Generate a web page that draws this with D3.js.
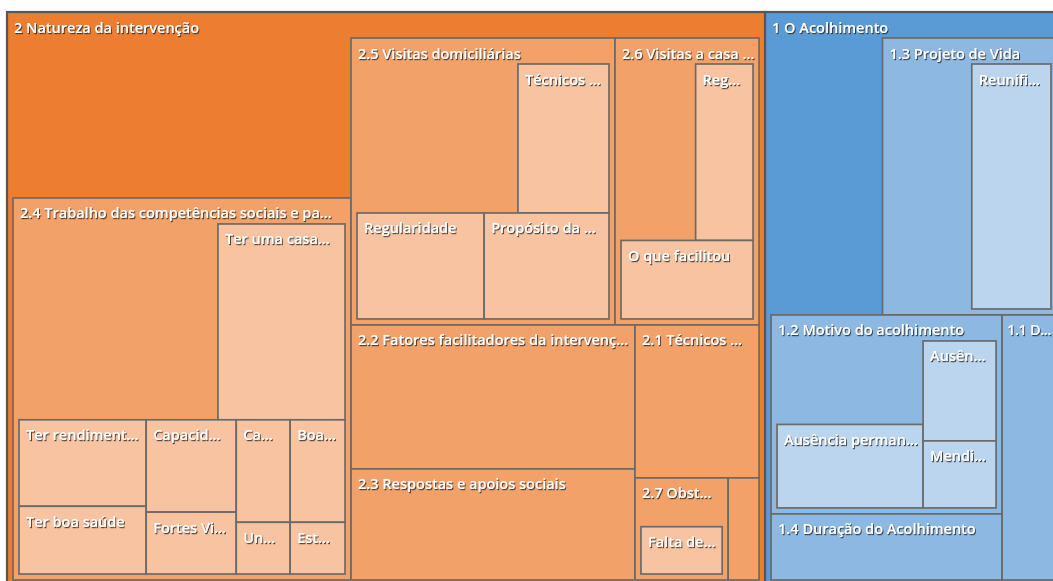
<!DOCTYPE html>
<html>
<head>
<meta charset="utf-8">
<script src="https://cdn.jsdelivr.net/npm/d3@7"></script>
<style>
  body { margin: 0; background: #fff; overflow: hidden; }
  svg { display: block; }
  .label { font-family: "Open Sans", Lato, sans-serif; font-size: 14.5px; font-weight: 600; fill: #fff; }
</style>
</head>
<body>
<div id="chart"></div>
<script>
// Codes of the nodes, in the order they are tiled (children follow their parent)
const codes = [
  "2", "2.4", "2.4a", "2.4b", "2.4c", "2.4d", "2.4e", "2.4f", "2.4g", "2.4h", "2.4i",
  "2.5", "2.5a", "2.5b", "2.5c",
  "2.6", "2.6a", "2.6b",
  "2.2", "2.3", "2.1", "2.7", "2.7a", "2.8",
  "1", "1.3", "1.3a", "1.2", "1.2a", "1.2b", "1.2c", "1.4", "1.1"
];

// Parent of each code
const parents = [
  "root", "2", "2.4", "2.4", "2.4", "2.4", "2.4", "2.4", "2.4", "2.4", "2.4",
  "2", "2.5", "2.5", "2.5",
  "2", "2.6", "2.6",
  "2", "2", "2", "2", "2.7", "2",
  "root", "1", "1.3", "1", "1.2", "1.2", "1.2", "1", "1"
];

// Labels as shown in the treemap
const labels = [
  "2 Natureza da intervenção", "2.4 Trabalho das competências sociais e pa...",
  "Ter uma casa...", "Ter rendiment...", "Ter boa saúde", "Capacid...", "Fortes Vi...",
  "Ca...", "Boa...", "Un...", "Est...",
  "2.5 Visitas domiciliárias", "Técnicos ...", "Regularidade", "Propósito da ...",
  "2.6 Visitas a casa ...", "Reg...", "O que facilitou",
  "2.2 Fatores facilitadores da intervenç...", "2.3 Respostas e apoios sociais",
  "2.1 Técnicos ...", "2.7 Obst...", "Falta de...", "",
  "1 O Acolhimento", "1.3 Projeto de Vida", "Reunifi...", "1.2 Motivo do acolhimento",
  "Ausência perman...", "Ausên...", "Mendi...", "1.4 Duração do Acolhimento", "1.1 D..."
];

// Coding coverage of each node (for parents: coded at the node itself)
const refs = [
  960, 783, 500, 221, 173, 167, 112, 111, 113, 56, 57,
  502, 284, 282, 277,
  287, 221, 226,
  726, 560, 337, 55, 114, 56,
  562, 451, 429, 279, 279, 167, 112, 278, 265
];

// Fill shades per theme, by depth
const shades = {
  "2": ["#ED7D31", "#F2A168", "#F7C3A0"],
  "1": ["#5B9BD5", "#8DB8E2", "#BBD5EE"]
};

let width = 1053, height = 581;
let ox = 7, oy = 12;           // top-left corner of the treemap
let tw = 1056, th = 574;       // treemap size (extends past the window)
let fontSize = 14.5;

//Build the table for stratify, with an extra leaf for each parent's own coverage
let rows = [{id: "root", parent: null, value: 0}];
codes.forEach((c, i) =>
{
    let isParent = parents.includes(c);
    rows.push({id: c, parent: parents[i], label: labels[i], value: isParent ? 0 : refs[i]});
    if (isParent)
    {
        rows.push({id: c + "/own", parent: c, value: refs[i], own: true});
    }
});

let root = d3.stratify()
    .id(d => d.id)
    .parentId(d => d.parent)(rows)
    .sum(d => d.value);

d3.treemap()
    .tile(d3.treemapSquarify)
    .size([tw, th])
    .paddingTop(d => d.depth ? 26 : 0)
    .paddingLeft(d => d.depth ? 6 : 0)
    .paddingRight(d => d.depth ? 6 : 0)
    .paddingBottom(d => d.depth ? 6 : 0)
    .paddingInner(0)
    (root);

let svg = d3.select("#chart").append("svg")
    .attr("width", width)
    .attr("height", height);

//Shadow behind the white labels
svg.append("defs").append("filter")
    .attr("id", "shadow")
    .attr("x", "-10%").attr("y", "-30%")
    .attr("width", "120%").attr("height", "160%")
    .append("feDropShadow")
    .attr("dx", 1).attr("dy", 1.2)
    .attr("stdDeviation", 0.6)
    .attr("flood-color", "#2a2a2a")
    .attr("flood-opacity", 0.85);

let g = svg.append("g").attr("transform", "translate(" + ox + "," + oy + ")");

let nodes = root.descendants().filter(d => d.depth > 0 && !d.data.own);

function theme(d)
{
    return d.ancestors().find(a => a.depth === 1).id;
}

let cells = g.selectAll("g.cell")
    .data(nodes)
    .join("g")
    .attr("class", "cell")
    .attr("transform", d => "translate(" + d.x0 + "," + d.y0 + ")");

cells.append("rect")
    .attr("width", d => d.x1 - d.x0)
    .attr("height", d => d.y1 - d.y0)
    .attr("fill", d => shades[theme(d)][Math.min(d.depth - 1, 2)])
    .attr("stroke", d => d.depth === 1 ? "#565656" : "#6a6a6a")
    .attr("stroke-width", d => d.depth === 1 ? 2.2 : 1.7);

//Labels, trimmed to the width of their box and kept inside the window
cells.append("text")
    .attr("class", "label")
    .attr("x", 7)
    .attr("y", 20.5)
    .attr("filter", "url(#shadow)")
    .text(d => d.data.label)
    .each(function (d)
    {
        let el = d3.select(this);
        let room = (d.x1 - d.x0) - 8;
        let txt = d.data.label;
        if ((d.y1 - d.y0) < 26 || room < 20)
        {
            el.text("");
            return;
        }
        while (this.getComputedTextLength() > room && txt.length > 1)
        {
            txt = txt.replace(/\.\.\.$/, "").slice(0, -1);
            el.text(txt + "...");
        }
        //Near the right edge of the window: tighten the letters, then shrink
        let seen = (width - 2 - ox) - d.x0 - 5;
        let len = this.getComputedTextLength();
        if (len > seen)
        {
            el.attr("x", 5);
            let n = el.text().length;
            let ls = Math.max(-0.7, -(len - seen) / n);
            el.style("letter-spacing", ls.toFixed(2) + "px");
            len = this.getComputedTextLength();
            if (len > seen)
            {
                el.style("font-size", (fontSize * seen / len).toFixed(2) + "px");
            }
        }
    });
</script>
</body>
</html>
